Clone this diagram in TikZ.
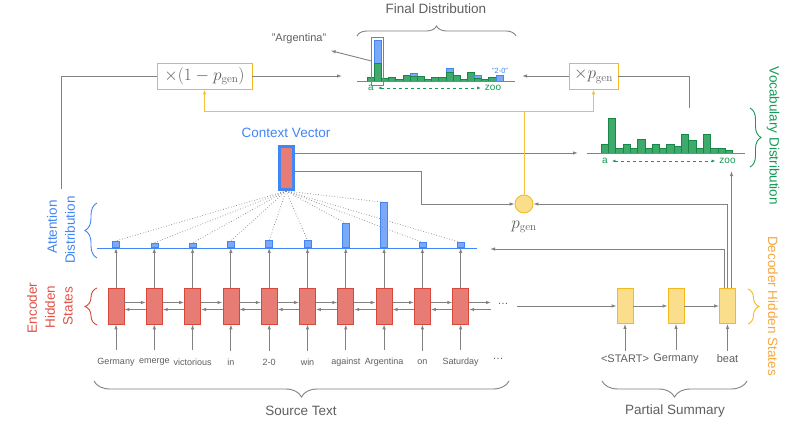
\documentclass[tikz,border=0pt]{standalone}
\usepackage{fontspec}
\setsansfont{Liberation Sans}
\renewcommand{\familydefault}{\sfdefault}
\usetikzlibrary{arrows.meta,decorations.pathreplacing}

\definecolor{encF}{RGB}{230,124,115}
\definecolor{encD}{RGB}{214,72,60}
\definecolor{ylwF}{RGB}{250,222,140}
\definecolor{ylwD}{RGB}{245,185,30}
\definecolor{ylwL}{RGB}{246,192,55}
\definecolor{bluF}{RGB}{122,170,247}
\definecolor{bluD}{RGB}{66,133,244}
\definecolor{grnF}{RGB}{62,170,108}
\definecolor{grnD}{RGB}{24,135,74}
\definecolor{grnT}{RGB}{20,155,85}
\definecolor{orgT}{RGB}{247,168,60}
\definecolor{redT}{RGB}{226,80,68}
\definecolor{lne}{RGB}{130,130,130}
\definecolor{txt}{RGB}{95,95,95}

\begin{document}
\begin{tikzpicture}[x=1pt,y=-1pt,
        enc/.style={draw=encD, fill=encF, line width=0.8pt, minimum width=16pt, minimum height=36pt, inner sep=0pt},
        dec/.style={draw=ylwD, fill=ylwF, line width=0.8pt, minimum width=16pt, minimum height=35pt, inner sep=0pt},
        att/.style={draw=bluD, fill=bluF, line width=0.6pt, minimum width=7pt, inner sep=0pt, anchor=south},
        mul/.style={draw=ylwD, line width=0.8pt, fill=white, minimum height=26pt, inner sep=2pt, text=txt, font=\fontsize{16}{18}\selectfont},
        arr/.style={draw=lne, line width=0.9pt, -{Latex[length=5pt,width=3.5pt]}},
        ln/.style={draw=lne, line width=0.9pt},
        yln/.style={draw=ylwL, line width=1pt},
        yarr/.style={yln, -{Latex[length=5pt,width=3.5pt]}},
        garr/.style={draw=grnT, dashed, line width=0.7pt, {Latex[length=3.5pt,width=3pt]}-{Latex[length=3.5pt,width=3pt]}},
        gbar/.style={draw=grnD, fill=grnF, line width=0.5pt},
        bbar/.style={draw=bluD, fill=bluF, line width=0.5pt},
        wrd/.style={text=txt, font=\fontsize{9}{10}\selectfont, inner sep=1pt},
        dwrd/.style={text=txt, font=\fontsize{11}{12}\selectfont, inner sep=1pt},
        gtxt/.style={text=grnT, font=\fontsize{10}{11}\selectfont, inner sep=1pt},
        ttl/.style={font=\fontsize{13.5}{15}\selectfont, inner sep=0pt},
        brc/.style={decorate, decoration={brace, amplitude=#1}, line width=0.9pt}
    ]
    \fill[white] (0,0) rectangle (800,427);
    \useasboundingbox (0,0) rectangle (800,427);

    % Context vector and p_gen
    \node[draw=bluD, fill=encF, line width=3pt, minimum width=14pt, minimum height=43pt, inner sep=0pt] (ctx) at (286,168) {};
    \node[ttl, text=bluD] (ctxl) at (286,133) {Context Vector};
    \node[circle, draw=ylwD, fill=ylwF, line width=0.8pt, minimum size=18pt, inner sep=0pt] (pgen) at (524,204) {};
    \node[text=txt, font=\fontsize{16}{18}\selectfont] (pgenl) at (524,227) {$p_{\mathrm{gen}}$};

    % Attention distribution line
    \coordinate (attL) at (97,248);
    \coordinate (attR) at (477,248);
    \draw[draw=bluD, line width=0.9pt] (attL) -- (attR);

    % Encoder
    \foreach \i/\w/\h [evaluate=\i as \x using {116+(\i-1)*38.3}] in {1/Germany/6.5, 2/emerge/4.5, 3/victorious/4.5, 4/in/6.5, 5/2-0/7, 6/win/7, 7/against/24, 8/Argentina/45, 9/on/5, 10/Saturday/5} {
        \node[enc] (e\i) at (\x,306) {};
        \node[wrd] (w\i) at (\x,362) {\w};
        \node[att, minimum height=\h pt] (a\i) at (\x,248) {};
        \draw[arr] ([yshift=7pt]w\i.north) -- (e\i.south);
        \draw[arr] (e\i.north) -- (a\i.south);
        \draw[lne, dotted, line width=0.7pt] (ctx.south) -- (a\i.north);
    }
    \foreach \i [count=\j from 2] in {1,...,9} {
        \draw[arr] ([yshift=3.5pt]e\i.east) -- ([yshift=3.5pt]e\j.west);
        \draw[arr] ([yshift=-3.5pt]e\j.west) -- ([yshift=-3.5pt]e\i.east);
    }
    \coordinate (encR) at (491,306);
    \draw[arr] ([yshift=3.5pt]e10.east) -- ([yshift=3.5pt]encR);
    \draw[arr] ([yshift=-3.5pt]encR) -- ([yshift=-3.5pt]e10.east);
    \node[dwrd] (edots) at (503,304) {\dots};
    \node[dwrd] (wdots) at (498,359) {\dots};

    % Decoder
    \foreach \i/\w/\x in {1/<START>/625, 2/Germany/676, 3/beat/727.5} {
        \node[dec] (d\i) at (\x,306) {};
        \node[dwrd] (v\i) at (\x,359) {\w};
        \draw[arr] ([yshift=3pt]v\i.north) -- (d\i.south);
    }
    \coordinate (decIn) at (517,306);
    \draw[arr] (decIn) -- (d1.west);
    \draw[arr] (d1.east) -- (d2.west);
    \draw[arr] (d2.east) -- (d3.west);

    % Vocabulary distribution
    \foreach \h [count=\k from 0] in {8.3,35,4.3,8.3,4.3,13.3,4.3,9,4.3,8.3,6.7,19,12.7,4.3,19,4.3,4.3,2.3} {
        \draw[gbar] (601+\k*7.3,153) rectangle ++(7.3,-\h);
    }
    \draw[grnF, line width=0.9pt] (587,153) -- (745,153);
    \node[gtxt] (va) at (605,161) {a};
    \node[gtxt] (vz) at (727.5,161) {zoo};
    \draw[garr, shorten <=3pt, shorten >=3pt] (va.east) -- (vz.west);

    % Final distribution
    \foreach \g/\b [count=\k from 0] in {4.3/0, 18/41, 3.3/0, 4.3/0, 2.3/0, 6.7/0, 5/8.3, 5/0, 2.3/0, 4.3/0, 4.3/0, 9.3/13.3, 6.7/0, 2.3/0, 9.3/0, 3.3/6.7, 2.3/0, 4.3/0, 0/6} {
        \ifdim\b pt>0pt \draw[bbar] (367+\k*7.16,81.7) rectangle ++(7.16,-\b); \fi
        \ifdim\g pt>0pt \draw[gbar] (367+\k*7.16,81.7) rectangle ++(7.16,-\g); \fi
    }
    \draw[grnF, line width=0.9pt] (357,81.7) -- (515,81.7);
    \node[draw=lne, line width=0.8pt, minimum width=12pt, minimum height=48pt, inner sep=0pt] (hl) at (377.8,61) {};
    \node[text=txt, font=\fontsize{11}{12}\selectfont] (argl) at (299,39) {"Argentina"};
    \draw[arr] (hl.west) -- ([xshift=1pt,yshift=-3pt]argl.south east);
    \node[text=bluD, font=\fontsize{7.5}{8}\selectfont, inner sep=0pt] (twol) at (500,71) {"2-0"};
    \node[gtxt] (fa) at (371,88) {a};
    \node[gtxt] (fz) at (493,88) {zoo};
    \draw[garr, shorten <=3pt, shorten >=3pt] (fa.east) -- (fz.west);

    % Multipliers
    \node[mul, minimum width=95pt] (mulA) at (204.5,76) {$\times(1-p_{\mathrm{gen}})$};
    \node[mul, minimum width=49pt] (mulB) at (593.5,76) {$\times p_{\mathrm{gen}}$};

    % Connections
    \coordinate (attUp) at (61,189);
    \coordinate (fdL) at (342,76);
    \coordinate (fdR) at (522,76);
    \coordinate (vocTop) at (689,108);
    \coordinate (vocL) at (578,153);
    \coordinate (attIn) at (490,249);
    \coordinate (yj) at (524,112);
    \draw[ln] (mulA.west) -| (attUp);
    \draw[arr] (mulA.east) -- (fdL);
    \draw[arr] (mulB.west) -- (fdR);
    \draw[ln] (vocTop) |- (mulB.east);
    \draw[arr] ([yshift=15pt]ctx.east) -- (vocL);
    \draw[arr] ([yshift=-3pt]ctx.east) -- ++(127,0) |- (pgen.west);
    \draw[arr] ([xshift=-3.5pt]d3.north) |- (attIn);
    \draw[arr] (d3.north) |- (pgen.east);
    \draw[arr] ([xshift=4pt]d3.north) -- ++(0,-117);
    \draw[yln] (pgen.north) -- (yj);
    \draw[yarr] (yj) -| (mulA.south);
    \draw[yarr] (yj) -| (mulB.south);

    % Braces and titles
    \draw[brc=10pt, draw=lne] (357,36) -- (516,36);
    \node[ttl, text=txt] (fdl) at (436,9) {Final Distribution};
    \draw[brc=16pt, draw=lne] (509,381) -- (94,381);
    \node[ttl, text=txt] (srcl) at (301,411) {Source Text};
    \draw[brc=16pt, draw=lne] (747,381) -- (602,381);
    \node[ttl, text=txt] (psl) at (675,411) {Partial Summary};
    \draw[brc=12pt, draw=bluD] (97,258) -- (97,203);
    \node[ttl, text=bluD, rotate=90] (attl1) at (52,227) {Attention};
    \node[ttl, text=bluD, rotate=90] (attl2) at (70,230) {Distribution};
    \draw[brc=12pt, draw=encD] (97,325) -- (97,288);
    \node[ttl, text=redT, rotate=90] (encl1) at (32,308) {Encoder};
    \node[ttl, text=redT, rotate=90] (encl2) at (50,307) {Hidden};
    \node[ttl, text=redT, rotate=90] (encl3) at (68,306) {States};
    \draw[brc=11pt, draw=grnT] (750,108) -- (750,167);
    \node[ttl, text=grnT, rotate=-90] (vocl) at (773,136) {Vocabulary Distribution};
    \draw[brc=11pt, draw=ylwD] (748,289) -- (748,324);
    \node[ttl, text=orgT, rotate=-90] (decl) at (773,306) {Decoder Hidden States};
\end{tikzpicture}
\end{document}
